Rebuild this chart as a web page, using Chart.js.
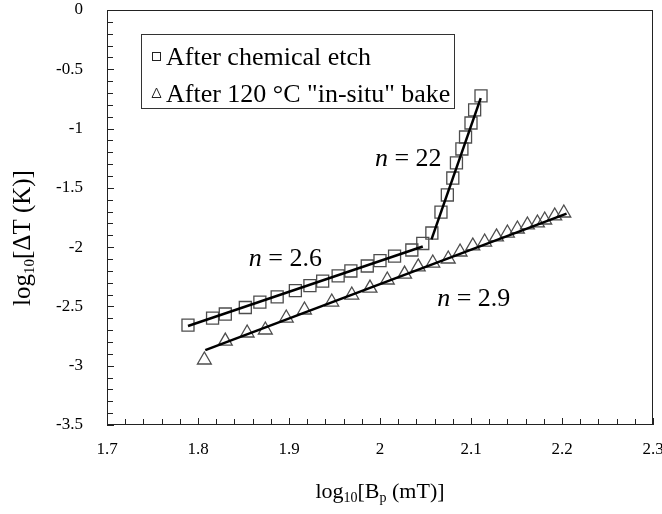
<!DOCTYPE html>
<html>
<head>
<meta charset="utf-8">
<script src="https://cdn.jsdelivr.net/npm/chart.js@4.4.1/dist/chart.umd.min.js"></script>
<style>
  html, body { margin: 0; padding: 0; background: #fff; }
  canvas { display: block; }
</style>
</head>
<body>
<canvas id="chart" width="662" height="514"></canvas>
<script>
// after chemical etch (squares)
const etchX = [1.789, 1.816, 1.830, 1.852, 1.868, 1.887, 1.907, 1.923, 1.937, 1.954, 1.968, 1.986,
               2.000, 2.016, 2.035, 2.047, 2.057, 2.067, 2.074, 2.080, 2.084, 2.090, 2.094, 2.100, 2.104, 2.111];
const etchY = [-2.657, -2.598, -2.564, -2.509, -2.463, -2.420, -2.366, -2.324, -2.286, -2.243, -2.201, -2.159,
               -2.113, -2.075, -2.024, -1.969, -1.881, -1.704, -1.560, -1.417, -1.290, -1.172, -1.071, -0.953, -0.843, -0.725];

// after 120 C in-situ bake (triangles)
const bakeX = [1.807, 1.830, 1.854, 1.874, 1.897, 1.917, 1.947, 1.969, 1.989, 2.008, 2.027, 2.042, 2.058,
               2.075, 2.088, 2.102, 2.115, 2.128, 2.140, 2.151, 2.162, 2.173, 2.181, 2.192, 2.202];
const bakeY = [-2.952, -2.792, -2.724, -2.699, -2.598, -2.530, -2.463, -2.404, -2.345, -2.277, -2.227, -2.167, -2.134,
               -2.100, -2.041, -1.990, -1.957, -1.914, -1.881, -1.847, -1.813, -1.796, -1.771, -1.737, -1.712];

// power-law fits: slope n in log-log, start point and end x
const fitN = [2.6, 22, 2.9];
const fitStartX = [1.789, 2.0566, 1.808];
const fitStartY = [-2.665, -1.934, -2.868];
const fitEndX = [2.047, 2.1107, 2.205];

// slope labels
const noteX = [1.896, 2.031, 2.103];
const noteY = [-2.083, -1.240, -2.420];

const legendLabels = ['After chemical etch', 'After 120 °C "in-situ" bake'];

const SERIF = '"Liberation Serif", "Times New Roman", serif';

function fitLine(i) {
  const x0 = fitStartX[i], y0 = fitStartY[i], x1 = fitEndX[i];
  return [{x: x0, y: y0}, {x: x1, y: y0 + fitN[i] * (x1 - x0)}];
}

// text made of runs (normal / italic / subscript), centered on x
function drawRuns(ctx, runs, x, y) {
  let w = 0;
  runs.forEach(r => { ctx.font = r.font; w += ctx.measureText(r.text).width; });
  let cx = x - w / 2;
  runs.forEach(r => {
    ctx.font = r.font;
    ctx.fillText(r.text, cx, y + (r.dy || 0));
    cx += ctx.measureText(r.text).width;
  });
}

const decorations = {
  id: 'decorations',
  afterDraw(chart) {
    const ctx = chart.ctx;
    const xs = chart.scales.x, ys = chart.scales.y;
    const L = Math.round(xs.getPixelForValue(1.7)), R = Math.round(xs.getPixelForValue(2.3));
    const T = Math.round(ys.getPixelForValue(0)), B = Math.round(ys.getPixelForValue(-3.5));
    ctx.save();

    // frame
    ctx.strokeStyle = '#222';
    ctx.lineWidth = 1;
    ctx.strokeRect(L + 0.5, T + 0.5, R - L - 1, B - T - 1);

    // inward ticks
    ctx.beginPath();
    for (let i = 0; i <= 30; i++) {
      const px = Math.round(xs.getPixelForValue(1.7 + i * 0.02)) + 0.5;
      const len = i % 5 === 0 ? 7 : 6;
      ctx.moveTo(px, B);
      ctx.lineTo(px, B - len);
    }
    for (let i = 0; i <= 35; i++) {
      const py = Math.round(ys.getPixelForValue(-i * 0.1)) + 0.5;
      const len = i % 5 === 0 ? 7 : 6;
      ctx.moveTo(L, py);
      ctx.lineTo(L + len, py);
    }
    ctx.stroke();

    ctx.fillStyle = '#000';
    ctx.textBaseline = 'alphabetic';
    ctx.textAlign = 'left';

    // axis titles
    const big = '22px ' + SERIF, sub = '14px ' + SERIF;
    drawRuns(ctx, [
      {text: 'log', font: big}, {text: '10', font: sub, dy: 4},
      {text: '[B', font: big}, {text: 'p', font: sub, dy: 4},
      {text: ' (mT)]', font: big}
    ], (L + R) / 2, 498);

    ctx.save();
    ctx.translate(22, 238);
    ctx.rotate(-Math.PI / 2);
    drawRuns(ctx, [
      {text: 'log', font: '25px ' + SERIF}, {text: '10', font: '15px ' + SERIF, dy: 4},
      {text: '[ΔT (K)]', font: '25px ' + SERIF}
    ], 0, 8);
    ctx.restore();

    // slope labels
    const nf = '26px ' + SERIF, nfi = 'italic 26px ' + SERIF;
    for (let i = 0; i < fitN.length; i++) {
      const px = xs.getPixelForValue(noteX[i]);
      const py = ys.getPixelForValue(noteY[i]);
      drawRuns(ctx, [{text: 'n', font: nfi}, {text: ' = ' + fitN[i], font: nf}], px, py + 9);
    }

    // legend box
    const lx = L + 34, ly = T + 24;
    ctx.strokeStyle = '#333';
    ctx.strokeRect(lx + 0.5, ly + 0.5, 313, 74);
    ctx.font = '26px ' + SERIF;
    ctx.fillText(legendLabels[0], lx + 25, ly + 31);
    ctx.fillText(legendLabels[1], lx + 25, ly + 68);
    ctx.strokeStyle = '#222';
    ctx.strokeRect(lx + 11.5, ly + 18.5, 8, 8);
    ctx.beginPath();
    ctx.moveTo(lx + 15.5, ly + 54);
    ctx.lineTo(lx + 20, ly + 63.5);
    ctx.lineTo(lx + 11, ly + 63.5);
    ctx.closePath();
    ctx.stroke();

    ctx.restore();
  }
};

const fmt = v => String(Math.round(v * 10) / 10);

// fixed axis boxes, no extra room for overhanging end labels
function fixBox(size) {
  return s => {
    if (s.isHorizontal()) s.height = size; else s.width = size;
    s.paddingLeft = 0; s.paddingRight = 0; s.paddingTop = 0; s.paddingBottom = 0;
  };
}

new Chart(document.getElementById('chart'), {
  type: 'scatter',
  data: {
    datasets: [
      {
        label: legendLabels[0],
        data: etchX.map((x, i) => ({x, y: etchY[i]})),
        pointStyle: 'rect', pointRadius: 8.5,
        borderColor: '#4d4d4d', backgroundColor: 'rgba(0,0,0,0)', borderWidth: 1.3,
        showLine: false, order: 2
      },
      {
        label: legendLabels[1],
        data: bakeX.map((x, i) => ({x, y: bakeY[i]})),
        pointStyle: 'triangle', pointRadius: 8,
        borderColor: '#4d4d4d', backgroundColor: 'rgba(0,0,0,0)', borderWidth: 1.3,
        showLine: false, order: 2
      },
      ...fitN.map((n, i) => ({
        label: 'n = ' + n,
        data: fitLine(i),
        showLine: true, pointRadius: 0,
        borderColor: '#000', borderWidth: 2.5,
        order: 0
      }))
    ]
  },
  options: {
    responsive: false,
    animation: false,
    devicePixelRatio: 1,
    layout: { autoPadding: false, padding: { left: 0, right: 9, top: 10, bottom: 0 } },
    plugins: { legend: { display: false }, tooltip: { enabled: false } },
    scales: {
      x: {
        type: 'linear', min: 1.7, max: 2.3,
        grid: { display: false, drawTicks: false },
        border: { display: false },
        ticks: { stepSize: 0.1, padding: 14, color: '#000', font: { family: SERIF, size: 17 }, callback: fmt, maxRotation: 0 },
        afterFit: fixBox(89)
      },
      y: {
        type: 'linear', min: -3.5, max: 0,
        grid: { display: false, drawTicks: false },
        border: { display: false },
        ticks: { stepSize: 0.5, padding: 24, color: '#000', font: { family: SERIF, size: 17 }, callback: fmt },
        afterFit: fixBox(107)
      }
    }
  },
  plugins: [decorations]
});
</script>
</body>
</html>
